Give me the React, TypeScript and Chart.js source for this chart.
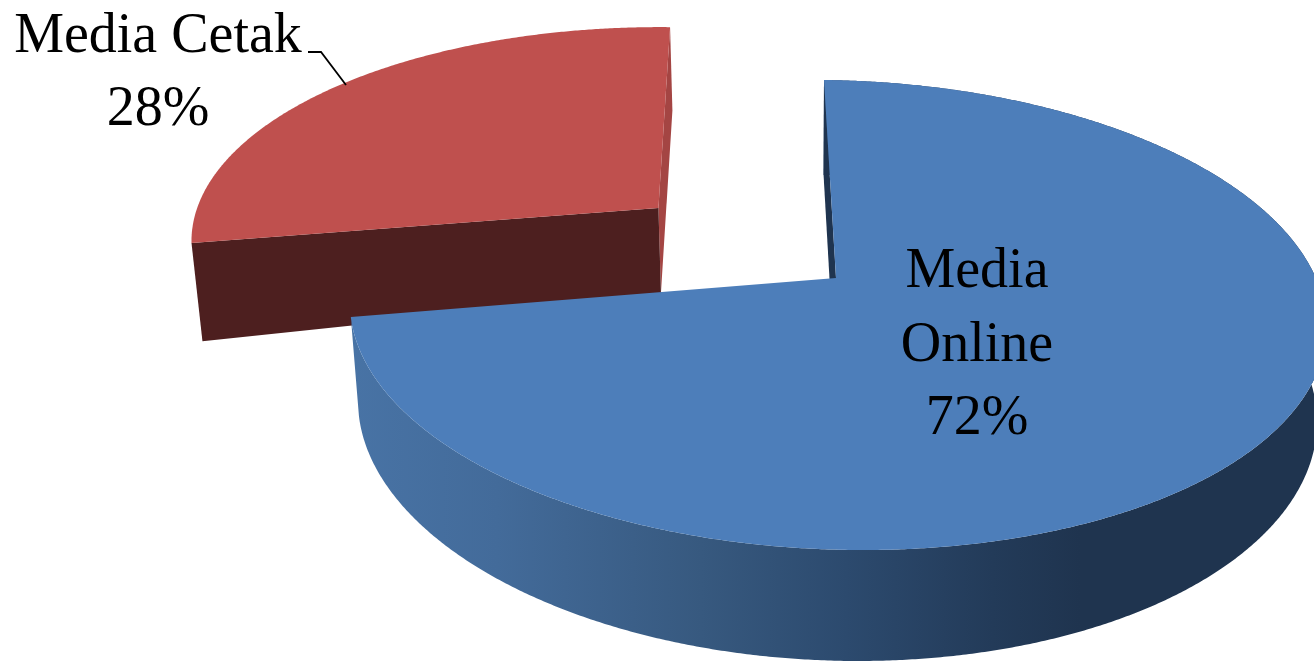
import React, { useEffect, useRef } from "react";
import { Chart, registerables } from "chart.js";

Chart.register(...registerables);

const categories = ["Media Online", "Media Cetak"];
const shares = [72, 28];

const faceColours = ["#4d7eba", "#bf504e"];
const explodeRatio = [0, 0.49];

// Plane-to-screen projection of the tilted pie (unit radius, y toward the viewer).
const project = (x: number, y: number) => {
  const w = 1 - 0.1574 * y;
  return {
    x: (836 + 482 * x - 117.7 * y) / w,
    y: (278 + 185.4 * y + 5.1 * x) / w,
  };
};

// Thickness of each slice's wall, as a small polynomial over its own local axes.
const wallDepth = [
  { base: 103, perY: 8, perX: -2, perXX: -8 },
  { base: 85, perY: 2, perX: -13, perXX: 0 },
];
const wallColours = { onlineCut: "#1f344f", cetakFront: "#4d1f1f", cetakSide: "#a44543" };

const dropPoint = (slice: number, px: number, py: number, lx: number, ly: number) => {
  const d = wallDepth[slice];
  const top = project(px, py);
  return {
    x: top.x + (800 - top.x) * 0.018,
    y: top.y + d.base + d.perY * ly + d.perX * lx + d.perXX * lx * lx,
  };
};

type Pt = { x: number; y: number };

const fillPoly = (ctx: CanvasRenderingContext2D, pts: Pt[], fill: string | CanvasGradient) => {
  ctx.beginPath();
  pts.forEach((p, i) => (i ? ctx.lineTo(p.x, p.y) : ctx.moveTo(p.x, p.y)));
  ctx.closePath();
  ctx.fillStyle = fill;
  ctx.fill();
};

const solidPie = {
  id: "solidPie",
  beforeDatasetsDraw(chart: any) {
    const ctx: CanvasRenderingContext2D = chart.ctx;
    const arcs = chart.getDatasetMeta(0).data;
    // The rear slice goes first so the large slice overlaps its front wall.
    [1, 0].forEach((i) => {
      const arc = arcs[i];
      const { startAngle, endAngle, outerRadius } = arc.getProps(["startAngle", "endAngle", "outerRadius"]);
      const mid = (startAngle + endAngle) / 2;
      const off = (arc.options.offset || 0) / outerRadius;
      const ox = Math.cos(mid) * off;
      const oy = Math.sin(mid) * off;

      const local: { x: number; y: number }[] = [];
      const steps = Math.ceil(((endAngle - startAngle) * 180) / Math.PI) * 3;
      for (let s = 0; s <= steps; s++) {
        const t = startAngle + ((endAngle - startAngle) * s) / steps;
        local.push({ x: Math.cos(t), y: Math.sin(t) });
      }
      const rimTop = local.map((p) => project(p.x + ox, p.y + oy));
      const rimLow = local.map((p) => dropPoint(i, p.x + ox, p.y + oy, p.x, p.y));
      const apexTop = project(ox, oy);
      const apexLow = dropPoint(i, ox, oy, 0, 0);
      const first = 0;
      const last = local.length - 1;

      if (i === 0) {
        const grad = ctx.createLinearGradient(351, 0, 1080, 0);
        grad.addColorStop(0, "#4873a5");
        grad.addColorStop(0.2, "#436b9a");
        grad.addColorStop(0.48, "#37597f");
        grad.addColorStop(0.68, "#2c4a6e");
        grad.addColorStop(0.88, "#233b59");
        grad.addColorStop(1, "#1f344f");
        fillPoly(ctx, [...rimTop, ...rimLow.slice().reverse()], grad);
        fillPoly(ctx, [apexTop, rimTop[first], rimLow[first], apexLow], wallColours.onlineCut);
      } else {
        fillPoly(ctx, [apexTop, rimTop[last], rimLow[last], apexLow], wallColours.cetakSide);
        fillPoly(ctx, [apexTop, rimTop[first], rimLow[first], apexLow], wallColours.cetakFront);
      }
      fillPoly(ctx, [apexTop, ...rimTop], arc.options.backgroundColor);
    });
    return false;
  },
  afterDraw(chart: any) {
    const ctx: CanvasRenderingContext2D = chart.ctx;
    ctx.save();
    ctx.fillStyle = "#000";
    ctx.textAlign = "center";
    ctx.textBaseline = "alphabetic";
    ctx.font = '56px "Liberation Serif"';
    const [online, cetak] = categories;
    const [first, second] = online.split(" ");
    ctx.fillText(first, 977, 287);
    ctx.fillText(second, 977, 361);
    ctx.fillText(`${shares[0]}%`, 977, 434);
    ctx.fillText(cetak, 158, 52);
    ctx.fillText(`${shares[1]}%`, 158, 125);
    // Leader from the outside label to the rear slice.
    ctx.strokeStyle = "#000";
    ctx.lineWidth = 1.8;
    ctx.beginPath();
    ctx.moveTo(308, 52);
    ctx.lineTo(321, 52);
    ctx.lineTo(346, 85);
    ctx.stroke();
    ctx.restore();
  },
};

export default function App() {
  const ref = useRef<HTMLCanvasElement>(null);
  useEffect(() => {
    const chart = new Chart(ref.current!, {
      type: "pie",
      data: {
        labels: categories,
        datasets: [
          {
            data: shares,
            backgroundColor: faceColours,
            borderWidth: 0,
            radius: 200,
            offset: explodeRatio.map((r) => r * 200),
          } as any,
        ],
      },
      options: {
        responsive: false,
        animation: false,
        layout: { padding: 0 },
        plugins: { legend: { display: false }, tooltip: { enabled: false } },
      },
      plugins: [solidPie],
    });
    return () => chart.destroy();
  }, []);
  return (
    <div style={{ position: "fixed", left: 0, top: 0, width: 1314, height: 661, background: "#fff" }}>
      <canvas ref={ref} width={1314} height={661} style={{ display: "block" }} />
    </div>
  );
}
